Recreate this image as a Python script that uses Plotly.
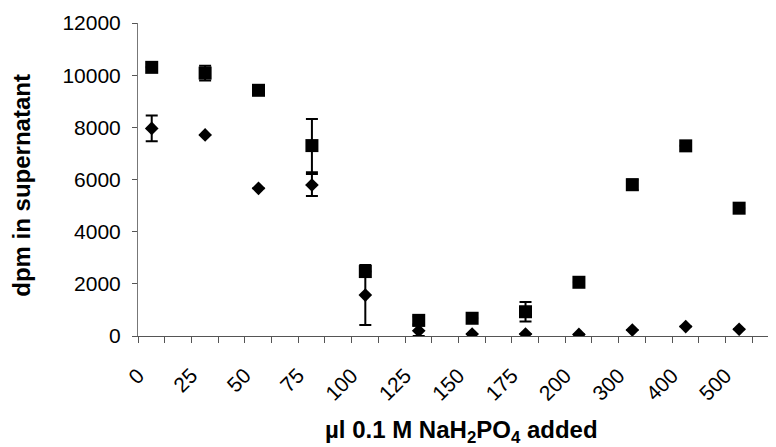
import plotly.graph_objects as go

# Categories (µl 0.1 M NaH2PO4 added)
volumes = ["0", "25", "50", "75", "100", "125", "150", "175", "200", "300", "400", "500"]

# Series 1 (squares)
square_vals = [10300, 10080, 9420, 7300, 2470, 600, 680, 930, 2060, 5800, 7290, 4900]
square_err = [0, 280, 0, 1020, 0, 150, 0, 370, 0, 200, 0, 0]

# Series 2 (diamonds)
diamond_vals = [7960, 7710, 5660, 5790, 1570, 200, 75, 75, 60, 230, 360, 260]
diamond_err = [490, 0, 0, 420, 1150, 200, 0, 0, 0, 0, 0, 0]

y_ticks = [0, 2000, 4000, 6000, 8000, 10000, 12000]
y_labels = [str(v) for v in y_ticks]

idx = list(range(len(volumes)))
label_offset = 0.257
tick_pos = [i - label_offset for i in idx]

FONT = "Liberation Sans, Arial, sans-serif"

fig = go.Figure()
fig.add_trace(go.Scatter(
    x=idx, y=square_vals, mode="markers",
    marker=dict(symbol="square", size=13, color="black"),
    error_y=dict(type="data", array=square_err, visible=True,
                 color="black", thickness=2, width=6),
    showlegend=False,
))
fig.add_trace(go.Scatter(
    x=idx, y=diamond_vals, mode="markers",
    marker=dict(symbol="diamond", size=10.5, color="black"),
    error_y=dict(type="data", array=diamond_err, visible=True,
                 color="black", thickness=2, width=6),
    showlegend=False,
))

fig.update_layout(
    width=768, height=439,
    margin=dict(l=130, r=0, t=15, b=111),
    paper_bgcolor="white", plot_bgcolor="white",
    font=dict(family=FONT, size=21, color="black"),
    xaxis=dict(
        range=[-label_offset, -label_offset + 638 / 53.4],
        tickmode="array", tickvals=tick_pos, ticktext=volumes,
        tickangle=-45, ticks="outside", ticklen=6, tickcolor="#555",
        ticklabelstandoff=12,
        showline=True, linecolor="#555", linewidth=1,
        showgrid=False, zeroline=False, automargin=False,
        minor=dict(tickmode="linear", tick0=-label_offset, dtick=0.5,
                   ticks="outside", ticklen=6, tickcolor="#555", showgrid=False),
        tickfont=dict(family=FONT, size=21, color="black"),
    ),
    yaxis=dict(
        range=[0, 12000],
        tickmode="array", tickvals=y_ticks, ticktext=y_labels,
        ticks="outside", ticklen=5, tickcolor="#555",
        ticklabelstandoff=7,
        showline=True, linecolor="#777", linewidth=1,
        showgrid=False, zeroline=False, automargin=False,
        tickfont=dict(family=FONT, size=21, color="black"),
    ),
    annotations=[
        dict(text="<b>dpm in supernatant</b>", textangle=-90,
             xref="paper", yref="paper", x=(22 - 138) / 638, y=0.48,
             xanchor="center", yanchor="middle", showarrow=False,
             font=dict(family=FONT, size=24, color="black")),
        dict(text="<b>\u00b5l 0.1 M NaH<sub>2</sub>PO<sub>4</sub> added</b>",
             xref="paper", yref="paper", x=(461 - 138) / 638, y=(336 - 431) / 313,
             xanchor="center", yanchor="middle", showarrow=False,
             font=dict(family=FONT, size=24, color="black")),
    ],
)

fig.write_html("out.html")
